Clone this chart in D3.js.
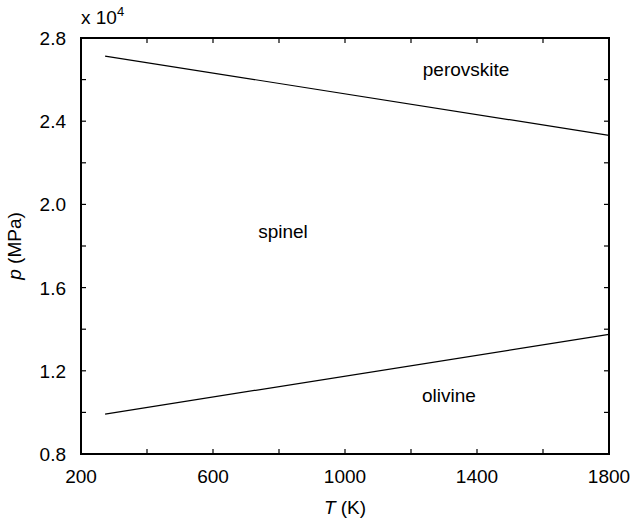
<!DOCTYPE html>
<html>
<head>
<meta charset="utf-8">
<script src="https://cdn.jsdelivr.net/npm/d3@7"></script>
<style>
  body { margin: 0; background: #fff; }
  svg text { font-family: "Liberation Sans", Arial, sans-serif; fill: #000; }
</style>
</head>
<body>
<svg id="chart"></svg>
<script>
const width = 637;
const height = 520;
const margin = { top: 38, right: 28, bottom: 66, left: 81 };

// phase boundaries, T in K, p in MPa
const boundaryT = [273, 1800];
const perovskiteP = [27130, 23320];
const olivineP = [9920, 13750];

const xTicks = [200, 600, 1000, 1400, 1800];
const yTicks = [0.8, 1.2, 1.6, 2.0, 2.4, 2.8];

const regionLabels = [
  { name: 'perovskite', T: 1367, p: 26150 },
  { name: 'spinel', T: 812, p: 18400 },
  { name: 'olivine', T: 1315, p: 10500 }
];

const fs = 19;

const svg = d3.select('#chart')
    .attr('width', width)
    .attr('height', height);

const x = d3.scaleLinear().domain([200, 1800]).range([margin.left, width - margin.right]);
const y = d3.scaleLinear().domain([0.8e4, 2.8e4]).range([height - margin.bottom, margin.top]);

const minorX = d3.range(200, 1801, 200);
const minorY = d3.range(8000, 28001, 2000);
const tickLen = 5;

// inward ticks on all four sides
const ticks = svg.append('g').attr('stroke', '#000').attr('stroke-width', 1.2);
minorX.forEach(t => {
    ticks.append('line').attr('x1', x(t)).attr('x2', x(t))
        .attr('y1', y.range()[0]).attr('y2', y.range()[0] - tickLen);
    ticks.append('line').attr('x1', x(t)).attr('x2', x(t))
        .attr('y1', y.range()[1]).attr('y2', y.range()[1] + tickLen);
});
minorY.forEach(v => {
    ticks.append('line').attr('y1', y(v)).attr('y2', y(v))
        .attr('x1', x.range()[0]).attr('x2', x.range()[0] + tickLen);
    ticks.append('line').attr('y1', y(v)).attr('y2', y(v))
        .attr('x1', x.range()[1]).attr('x2', x.range()[1] - tickLen);
});

// frame
svg.append('rect')
    .attr('x', x.range()[0])
    .attr('y', y.range()[1])
    .attr('width', x.range()[1] - x.range()[0])
    .attr('height', y.range()[0] - y.range()[1])
    .attr('fill', 'none')
    .attr('stroke', '#000')
    .attr('stroke-width', 2);

// tick labels
svg.selectAll('.xlab')
    .data(xTicks)
    .enter()
    .append('text')
    .attr('class', 'xlab')
    .attr('x', d => x(d))
    .attr('y', y.range()[0] + 29)
    .attr('text-anchor', 'middle')
    .style('font-size', fs + 'px')
    .text(d => d);

svg.selectAll('.ylab')
    .data(yTicks)
    .enter()
    .append('text')
    .attr('class', 'ylab')
    .attr('x', x.range()[0] - 15)
    .attr('y', d => y(d * 1e4) + 7)
    .attr('text-anchor', 'end')
    .style('font-size', fs + 'px')
    .text(d => d.toFixed(1));

// exponent
const expo = svg.append('text')
    .attr('x', x.range()[0])
    .attr('y', 24)
    .style('font-size', fs + 'px');
expo.append('tspan').text('x 10');
expo.append('tspan').attr('dy', -8).style('font-size', '13px').text('4');

// axis titles
const xt = svg.append('text')
    .attr('x', 345)
    .attr('y', 514)
    .attr('text-anchor', 'middle')
    .style('font-size', fs + 'px');
xt.append('tspan').style('font-style', 'italic').text('T');
xt.append('tspan').text(' (K)');

const yt = svg.append('text')
    .attr('transform', `translate(21, ${(y.range()[0] + y.range()[1]) / 2}) rotate(-90)`)
    .attr('text-anchor', 'middle')
    .style('font-size', fs + 'px');
yt.append('tspan').style('font-style', 'italic').text('p');
yt.append('tspan').text(' (MPa)');

// boundary lines
const line = d3.line()
    .x(d => x(d[0]))
    .y(d => y(d[1]));

[perovskiteP, olivineP].forEach(series => {
    svg.append('path')
        .datum(boundaryT.map((t, i) => [t, series[i]]))
        .attr('fill', 'none')
        .attr('stroke', '#000')
        .attr('stroke-width', 1.2)
        .attr('d', line);
});

// phase names
svg.selectAll('.phase')
    .data(regionLabels)
    .enter()
    .append('text')
    .attr('class', 'phase')
    .attr('x', d => x(d.T))
    .attr('y', d => y(d.p))
    .attr('text-anchor', 'middle')
    .style('font-size', fs + 'px')
    .text(d => d.name);
</script>
</body>
</html>
